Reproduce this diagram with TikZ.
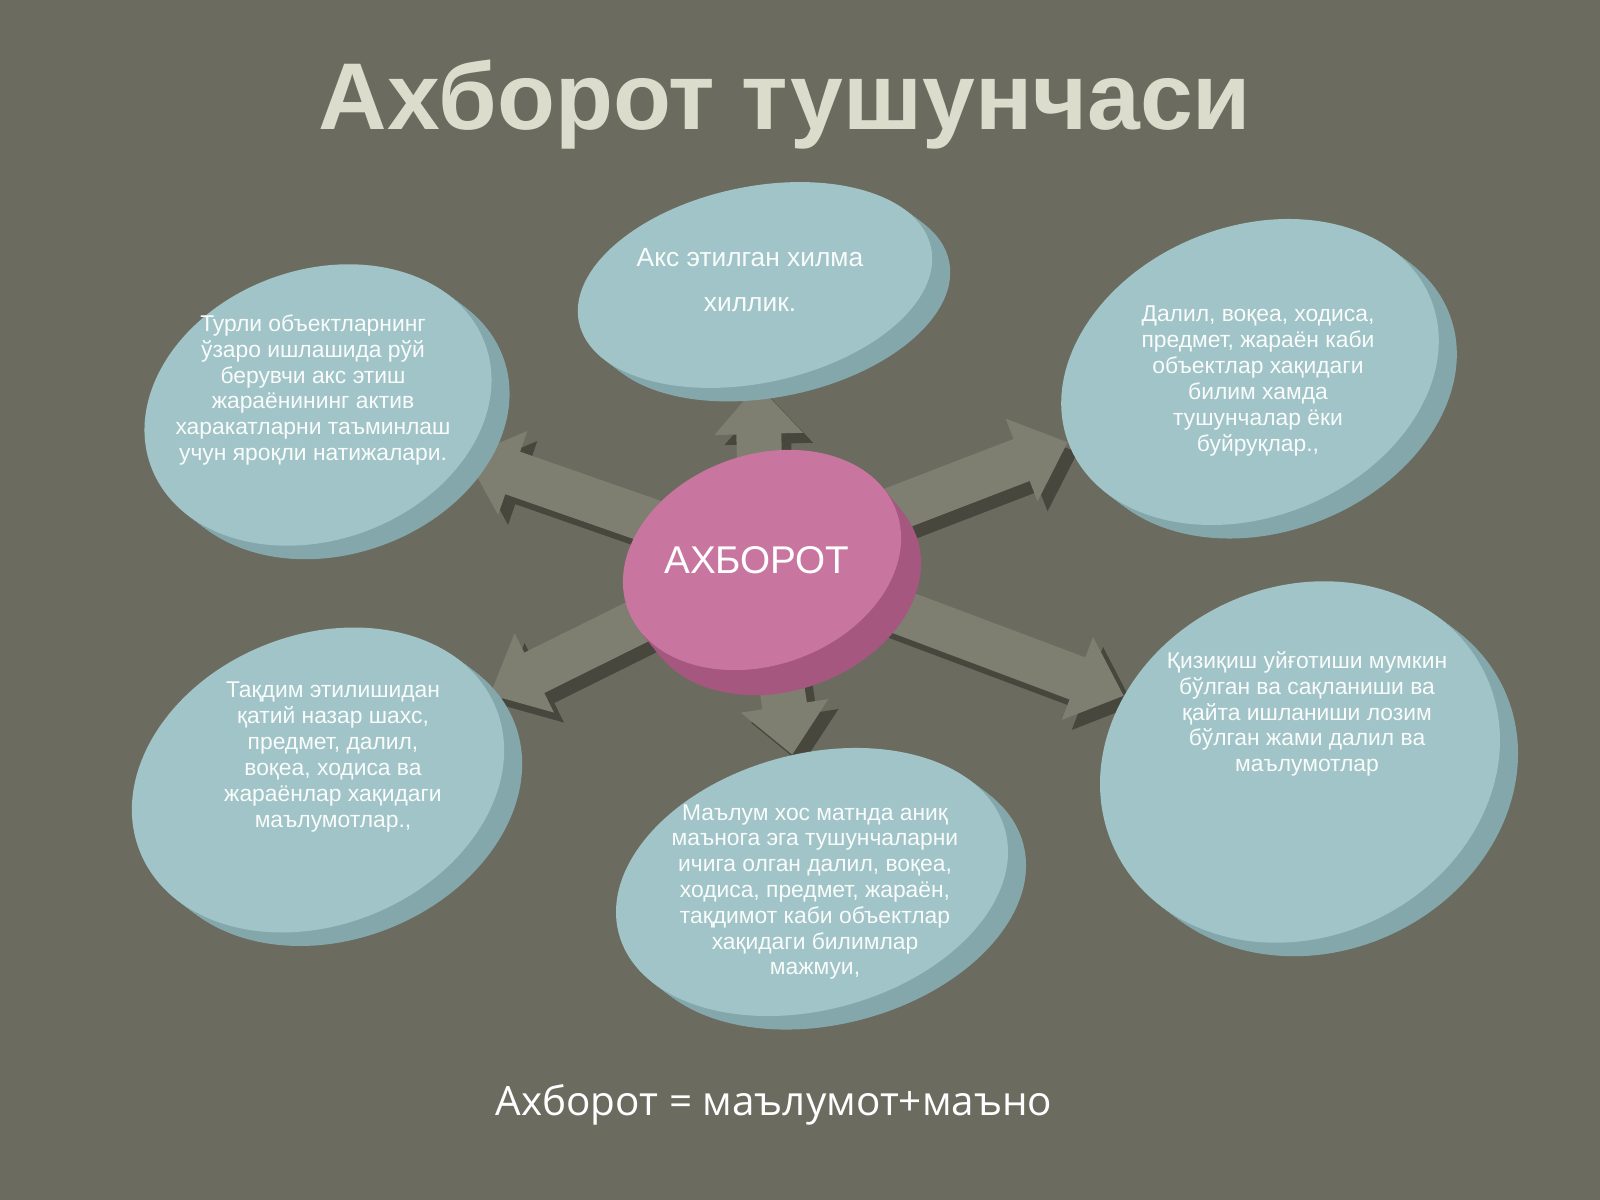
\documentclass[tikz,border=0pt]{standalone}
\usepackage{fontspec}
\setmainfont{Liberation Sans}
\newfontfamily\opensans{Open Sans}
\usetikzlibrary{arrows.meta,shapes.geometric}
\definecolor{slate}{HTML}{6B6C5F}
\definecolor{disctop}{HTML}{A0C4C7}
\definecolor{discside}{HTML}{84A7AC}
\definecolor{pinktop}{HTML}{C8769F}
\definecolor{pinkside}{HTML}{A5577F}
\definecolor{linkface}{HTML}{7E7E71}
\definecolor{linkside}{HTML}{47473D}
\definecolor{titlecol}{HTML}{DCDCCC}
\pgfdeclarelayer{back}
\pgfdeclarelayer{links}
\pgfsetlayers{back,links,main}
\tikzset{every node/.style={align=center}}
\tikzset{
  disc/.style={ellipse, fill=disctop, inner sep=0pt},
  disc side/.style={fill=discside},
  hub/.style={ellipse, fill=pinktop, inner sep=0pt},
  link/.style={line width=0.9cm, draw=linkface, -{Triangle[length=0pt 1.1, width=0pt 1.9]}},
  link side/.style={link, draw=linkside, transform canvas={shift={(10,-10)}}},
  disctext/.style={text=white!95!disctop, font=\fontsize{13}{14.7}\selectfont}
}

\begin{document}
\begin{tikzpicture}[x=0.02cm,y=0.02cm]
        \begin{pgfonlayer}{back}
        \fill[slate] (0,0) rectangle (1600,1200);
        \end{pgfonlayer}

        % sides of the discs
        \foreach \x/\y/\a/\b/\r in {755/915/180/98/12, 318/795/178/135/20, 1250/828/195/145/22,
                                    318/420/192/145/22, 812/318/200/128/15, 1300/438/205/175/25}
            \foreach \k in {1,...,9}
                \fill[disc side, shift={(2*\k,-1.5*\k)}, rotate around={\r:(\x,\y)}] (\x,\y) ellipse ({\a} and {\b});

        % top faces
        \node[disc, rotate=12, minimum width=7.2cm, minimum height=3.92cm] (d1) at (755,915) {};
        \node[disc, rotate=20, minimum width=7.12cm, minimum height=5.4cm] (d2) at (318,795) {};
        \node[disc, rotate=22, minimum width=7.8cm, minimum height=5.8cm] (d3) at (1250,828) {};
        \node[disc, rotate=22, minimum width=7.68cm, minimum height=5.8cm] (d4) at (318,420) {};
        \node[disc, rotate=15, minimum width=8cm, minimum height=5.12cm] (d5) at (812,318) {};
        \node[disc, rotate=25, minimum width=8.2cm, minimum height=7cm] (d6) at (1300,438) {};

        % centre disc
        \foreach \k in {1,...,10}
            \fill[pinkside, shift={(2*\k,-2.5*\k)}, rotate around={20:(762,640)}] (762,640) ellipse (143 and 105);
        \node[hub, rotate=20, minimum width=5.72cm, minimum height=4.2cm] (c) at (762,640) {};

        % block arrows from the centre
        \begin{pgfonlayer}{links}
        \foreach \d in {d1,d2,d3,d4,d5,d6} {
            \draw[link side] (c.center) -- (\d);
            \draw[link] (c.center) -- (\d);
        }
        \end{pgfonlayer}

        \node[text=white, font=\fontsize{22}{26}\selectfont] (ctext) at (757,640) {АХБОРОТ};

        \node[disctext, font=\fontsize{15}{25.5}\selectfont] (t1) at (750,920) {Акс этилган хилма\\хиллик.};
        \node[disctext] (t2) at (313,810) {Турли объектларнинг\\ўзаро ишлашида рўй\\берувчи акс этиш\\жараёнининг актив\\харакатларни таъминлаш\\учун яроқли натижалари.};
        \node[disctext] (t3) at (1258,819) {Далил, воқеа, ходиса,\\предмет, жараён каби\\объектлар хақидаги\\билим хамда\\тушунчалар ёки\\буйруқлар.,};
        \node[disctext] (t4) at (333,443) {Тақдим этилишидан\\қатий назар шахс,\\предмет, далил,\\воқеа, ходиса ва\\жараёнлар хақидаги\\маълумотлар.,};
        \node[disctext] (t5) at (815,308) {Маълум хос матнда аниқ\\маънога эга тушунчаларни\\ичига олган далил, воқеа,\\ходиса, предмет, жараён,\\тақдимот каби объектлар\\хақидаги билимлар\\мажмуи,};
        \node[disctext] (t6) at (1307,486) {Қизиқиш уйғотиши мумкин\\бўлган ва сақланиши ва\\қайта ишланиши лозим\\бўлган жами далил ва\\маълумотлар};

        \node[text=titlecol, font=\fontsize{54}{60}\selectfont\bfseries] (title) at (785,1095) {Ахборот тушунчаси};
        \node[text=white, font=\opensans\fontsize{23}{27}\selectfont] (formula) at (774,95) {Ахборот = маълумот+маъно};

    \end{tikzpicture}
\end{document}
